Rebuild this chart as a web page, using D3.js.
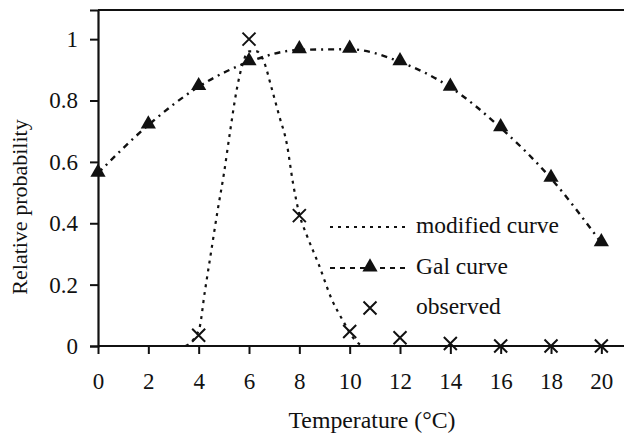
<!DOCTYPE html>
<html>
<head>
<meta charset="utf-8">
<script src="https://cdn.jsdelivr.net/npm/d3@7"></script>
<style>
  html, body { margin: 0; padding: 0; background: #fff; }
  svg { display: block; }
</style>
</head>
<body>
<svg id="chart" width="624" height="435"></svg>
<script>
// ---- data ----
const temperatures = [0, 2, 4, 6, 8, 10, 12, 14, 16, 18, 20];
const galValues = [0.563, 0.72, 0.845, 0.926, 0.965, 0.967, 0.926, 0.843, 0.711, 0.546, 0.336];
const observedTemps = [4, 6, 8, 10, 12, 14, 16, 18, 20];
const observedValues = [0.035, 1.0, 0.425, 0.047, 0.027, 0.008, 0.0, 0.0, 0.0];
const modifiedTemps = [0, 2, 3.4, 4.0, 4.25, 4.5, 4.75, 5.0, 5.25, 5.5, 5.75, 6.0, 6.3, 6.6, 6.9, 7.2, 7.5, 7.75, 8.0, 8.3, 8.75, 9.3, 9.75, 10.2, 10.6, 14, 20.9];
const modifiedValues = [0, 0, 0, 0.05, 0.18, 0.31, 0.44, 0.56, 0.70, 0.83, 0.92, 0.96, 0.96, 0.925, 0.84, 0.75, 0.66, 0.53, 0.43, 0.36, 0.27, 0.15, 0.08, 0.02, 0, 0, 0];
const xTicks = [0, 2, 4, 6, 8, 10, 12, 14, 16, 18, 20];
const yTicks = [0, 0.2, 0.4, 0.6, 0.8, 1];
const yTickLabels = ["0", "0.2", "0.4", "0.6", "0.8", "1"];
const legendLabels = ["modified curve", "Gal curve", "observed"];
const xTitle = "Temperature (°C)";
const yTitle = "Relative probability";

(function () {
const FONT = "Liberation Serif";
const INK = "#111";
const svg = d3.select("#chart");
const mLeft = 98, mRight = 624, mTop = 10, mBottom = 346;
const x = d3.scaleLinear().domain([0, 20.9]).range([mLeft, mRight]);
const y = d3.scaleLinear().domain([0, 1.095]).range([mBottom, mTop]);

// top border
svg.append("line").attr("x1", mLeft).attr("x2", mRight).attr("y1", mTop).attr("y2", mTop)
  .attr("stroke", INK).attr("stroke-width", 2);

// axes
const xAxis = svg.append("g").attr("transform", `translate(0,${mBottom})`)
  .call(d3.axisBottom(x).tickValues(xTicks).tickSize(8).tickPadding(19).tickFormat(d3.format("d")));
const yAxis = svg.append("g").attr("transform", `translate(${mLeft},0)`)
  .call(d3.axisLeft(y).tickValues(yTicks).tickSize(8).tickPadding(12).tickFormat((d, i) => yTickLabels[i]));
[xAxis, yAxis].forEach(g => {
  g.attr("font-family", null).attr("font-size", null);
  g.select(".domain").attr("stroke", INK).attr("stroke-width", 2.2);
  g.selectAll(".tick line").attr("stroke", INK).attr("stroke-width", 2);
  g.selectAll(".tick text").attr("fill", INK)
    .style("font-family", FONT).style("font-size", "23px");
});
xAxis.select(".domain").attr("d", `M${mLeft},0H${mRight}`);

// titles
svg.append("text").attr("x", 372).attr("y", 428).attr("text-anchor", "middle")
  .style("font-family", FONT).style("font-size", "23.8px").attr("fill", INK).text(xTitle);
svg.append("text").attr("transform", `translate(27,207) rotate(-90)`).attr("text-anchor", "middle")
  .style("font-family", FONT).style("font-size", "22px").attr("fill", INK).text(yTitle);

// curves
const line = d3.line().x(d => x(d[0])).y(d => y(d[1])).curve(d3.curveMonotoneX);
const modData = modifiedTemps.map((t, i) => [t, modifiedValues[i]]);
const galData = temperatures.map((t, i) => [t, galValues[i]]);

svg.append("path").datum(modData).attr("d", line).attr("fill", "none")
  .attr("stroke", INK).attr("stroke-width", 2.2).attr("stroke-dasharray", "3,5");
svg.append("path").datum(galData).attr("d", line).attr("fill", "none")
  .attr("stroke", INK).attr("stroke-width", 2.4).attr("stroke-dasharray", "6,5,2,5");

// markers
const tri = d3.symbol().type(d3.symbolTriangle).size(100);
svg.append("g").selectAll("path").data(galData).join("path")
  .attr("d", tri).attr("transform", d => `translate(${x(d[0])},${y(d[1]) - 1})`).attr("fill", INK);

function drawX(g, cx, cy) {
  const s = 6.5;
  g.append("path").attr("d", `M${cx - s},${cy - s}L${cx + s},${cy + s}M${cx - s},${cy + s}L${cx + s},${cy - s}`)
    .attr("stroke", INK).attr("stroke-width", 2).attr("fill", "none");
}
const obsG = svg.append("g");
observedTemps.forEach((t, i) => drawX(obsG, x(t), y(observedValues[i])));

// legend
const lg = svg.append("g");
const lx1 = 330, lx2 = 407, ltx = 416, lmid = 370;
const rows = [227, 268, 308];
lg.append("line").attr("x1", lx1).attr("x2", lx2).attr("y1", rows[0]).attr("y2", rows[0])
  .attr("stroke", INK).attr("stroke-width", 2.2).attr("stroke-dasharray", "3,5");
lg.append("line").attr("x1", lx1).attr("x2", lx2).attr("y1", rows[1]).attr("y2", rows[1])
  .attr("stroke", INK).attr("stroke-width", 2.2).attr("stroke-dasharray", "5,5");
lg.append("path").attr("d", tri).attr("transform", `translate(${lmid},${rows[1] - 1})`).attr("fill", INK);
drawX(lg, lmid, rows[2]);
legendLabels.forEach((s, i) => {
  lg.append("text").attr("x", ltx).attr("y", rows[i] + 6)
    .style("font-family", FONT).style("font-size", "23.5px").attr("fill", INK).text(s);
});
})();
</script>
</body>
</html>
